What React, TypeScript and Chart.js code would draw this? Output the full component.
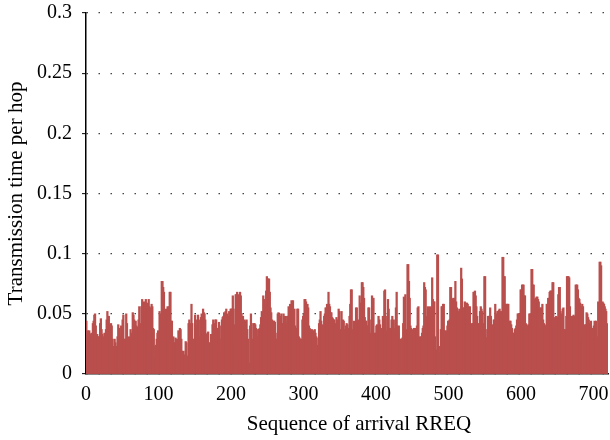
import React, { useEffect, useRef } from "react";
import { Chart, registerables } from "chart.js";

Chart.register(...registerables);

// Transmission time per hop, one value per arriving RREQ (sequence 1..720)
const seg1 = [
  0.044, 0.031, 0.036, 0.029, 0.036, 0.033, 0.029, 0.034, 0.030, 0.042,
  0.044, 0.049, 0.050, 0.040, 0.031, 0.033, 0.031, 0.031, 0.029, 0.042, 0.046,
  0.037, 0.033, 0.031, 0.016, 0.034, 0.031, 0.037, 0.045, 0.052, 0.038,
  0.048, 0.040, 0.041, 0.042, 0.040, 0.029, 0.023, 0.018, 0.029, 0.026, 0.020,
  0.023, 0.031, 0.041, 0.038, 0.031, 0.029, 0.040, 0.034, 0.045, 0.049, 0.029,
  0.018, 0.029, 0.050, 0.042, 0.012, 0.006, 0.031, 0.023, 0.037, 0.034, 0.029,
  0.051, 0.049, 0.045, 0.029, 0.044, 0.040, 0.037, 0.039, 0.045, 0.056, 0.038,
  0.042, 0.056, 0.062, 0.060, 0.037, 0.054, 0.060, 0.062, 0.056, 0.059, 0.054, 0.062, 0.056,
];
const seg2 = [
  0.054, 0.055, 0.058, 0.056, 0.038, 0.037, 0.013, 0.023, 0.024, 0.029, 0.034,
  0.036, 0.029, 0.052, 0.048, 0.050, 0.077, 0.077, 0.072, 0.068, 0.009, 0.015,
  0.054, 0.048, 0.056, 0.052, 0.056, 0.068, 0.068, 0.044, 0.044, 0.009, 0.031,
  0.026, 0.026, 0.030, 0.026, 0.029, 0.016, 0.036, 0.033, 0.038, 0.037, 0.029, 0.019,
  0.018, 0.019, 0.015, 0.016, 0.027, 0.026, 0.002, 0.015, 0.042, 0.045, 0.040,
  0.042, 0.058, 0.042, 0.029, 0.011, 0.029, 0.049, 0.045, 0.040, 0.029, 0.049,
  0.026, 0.031, 0.045, 0.047, 0.050, 0.048, 0.054, 0.051, 0.050, 0.045, 0.033,
  0.033, 0.034, 0.035, 0.026, 0.018, 0.026, 0.033, 0.026, 0.041, 0.045, 0.042, 0.040, 0.045,
];
const seg3 = [
  0.045, 0.038, 0.037, 0.038, 0.043, 0.040, 0.019, 0.029, 0.045, 0.047, 0.048, 0.051,
  0.047, 0.052, 0.054, 0.050, 0.045, 0.048, 0.052, 0.050, 0.054, 0.054, 0.054,
  0.065, 0.054, 0.024, 0.041, 0.066, 0.066, 0.068, 0.066, 0.037, 0.012, 0.068,
  0.065, 0.050, 0.045, 0.048, 0.038, 0.045, 0.041, 0.044, 0.045, 0.037, 0.029,
  0.009, 0.009, 0.040, 0.050, 0.042, 0.029, 0.020, 0.042, 0.042, 0.041, 0.038,
  0.031, 0.029, 0.037, 0.037, 0.038, 0.041, 0.047, 0.052, 0.051, 0.065, 0.062,
  0.052, 0.058, 0.069, 0.081, 0.079, 0.079, 0.079, 0.068, 0.055, 0.051, 0.045,
  0.033, 0.044, 0.044, 0.043, 0.034, 0.029, 0.029, 0.050, 0.051, 0.050, 0.048, 0.045, 0.050,
];
const seg4 = [
  0.042, 0.042, 0.050, 0.045, 0.048, 0.040, 0.042, 0.048, 0.048, 0.056, 0.027,
  0.058, 0.050, 0.061, 0.054, 0.061, 0.052, 0.054, 0.040, 0.038, 0.034, 0.054,
  0.054, 0.031, 0.030, 0.029, 0.015, 0.029, 0.045, 0.048, 0.050, 0.062, 0.062,
  0.060, 0.056, 0.058, 0.055, 0.040, 0.038, 0.037, 0.026, 0.037, 0.036, 0.031,
  0.036, 0.037, 0.034, 0.031, 0.023, 0.024, 0.030, 0.042, 0.045, 0.052, 0.044,
  0.041, 0.036, 0.040, 0.048, 0.050, 0.055, 0.055, 0.058, 0.038, 0.068, 0.058,
  0.056, 0.051, 0.051, 0.047, 0.046, 0.045, 0.045, 0.042, 0.040, 0.047, 0.045,
  0.044, 0.054, 0.052, 0.029, 0.037, 0.052, 0.029, 0.045, 0.044, 0.023, 0.037, 0.040, 0.042, 0.041,
];
const seg5 = [
  0.037, 0.038, 0.048, 0.058, 0.070, 0.070, 0.031, 0.037, 0.044, 0.038, 0.040,
  0.055, 0.055, 0.044, 0.045, 0.038, 0.065, 0.059, 0.058, 0.076, 0.076, 0.072,
  0.063, 0.047, 0.044, 0.044, 0.040, 0.040, 0.055, 0.055, 0.023, 0.034, 0.045,
  0.065, 0.063, 0.063, 0.026, 0.034, 0.034, 0.040, 0.041, 0.038, 0.048, 0.045,
  0.041, 0.037, 0.030, 0.038, 0.048, 0.041, 0.069, 0.070, 0.048, 0.036, 0.034,
  0.062, 0.054, 0.034, 0.038, 0.038, 0.045, 0.048, 0.042, 0.045, 0.034, 0.038,
  0.055, 0.068, 0.040, 0.034, 0.040, 0.029, 0.027, 0.029, 0.029, 0.030, 0.042,
  0.064, 0.062, 0.066, 0.037, 0.031, 0.091, 0.091, 0.077, 0.063, 0.040, 0.038, 0.037, 0.031, 0.031,
];
const seg6 = [
  0.038, 0.030, 0.038, 0.036, 0.040, 0.055, 0.056, 0.020, 0.031, 0.029, 0.031,
  0.034, 0.038, 0.040, 0.076, 0.072, 0.070, 0.048, 0.047, 0.056, 0.055, 0.048,
  0.056, 0.054, 0.055, 0.080, 0.062, 0.060, 0.060, 0.031, 0.018, 0.020, 0.099,
  0.099, 0.018, 0.011, 0.023, 0.037, 0.056, 0.056, 0.058, 0.058, 0.036, 0.029,
  0.036, 0.027, 0.040, 0.044, 0.044, 0.045, 0.072, 0.072, 0.045, 0.062, 0.063,
  0.062, 0.063, 0.077, 0.060, 0.055, 0.054, 0.037, 0.052, 0.054, 0.052, 0.088,
  0.079, 0.054, 0.055, 0.055, 0.060, 0.059, 0.056, 0.059, 0.058, 0.056, 0.054,
  0.056, 0.038, 0.041, 0.042, 0.042, 0.068, 0.068, 0.069, 0.065, 0.056, 0.048, 0.042, 0.041, 0.042,
];
const seg7 = [
  0.052, 0.056, 0.054, 0.052, 0.042, 0.041, 0.081, 0.081, 0.030, 0.030, 0.037,
  0.048, 0.048, 0.048, 0.055, 0.048, 0.038, 0.041, 0.037, 0.045, 0.045, 0.058,
  0.050, 0.047, 0.052, 0.052, 0.053, 0.054, 0.052, 0.048, 0.052, 0.097, 0.097,
  0.081, 0.081, 0.019, 0.058, 0.058, 0.058, 0.058, 0.031, 0.044, 0.044, 0.041,
  0.038, 0.013, 0.034, 0.034, 0.037, 0.038, 0.040, 0.045, 0.050, 0.050, 0.038,
  0.050, 0.070, 0.070, 0.074, 0.074, 0.074, 0.065, 0.065, 0.042, 0.041, 0.023,
  0.040, 0.041, 0.050, 0.050, 0.048, 0.087, 0.087, 0.074, 0.074, 0.055, 0.062,
  0.063, 0.064, 0.064, 0.062, 0.060, 0.038, 0.055, 0.055, 0.047, 0.058, 0.045, 0.042, 0.041, 0.040,
];
const seg8 = [
  0.040, 0.058, 0.058, 0.063, 0.063, 0.068, 0.069, 0.069, 0.069, 0.076, 0.076,
  0.038, 0.047, 0.045, 0.048, 0.044, 0.047, 0.066, 0.072, 0.072, 0.052, 0.048,
  0.050, 0.054, 0.055, 0.037, 0.037, 0.034, 0.048, 0.081, 0.081, 0.081, 0.080,
  0.056, 0.018, 0.042, 0.048, 0.048, 0.049, 0.048, 0.047, 0.074, 0.074, 0.074,
  0.070, 0.063, 0.062, 0.059, 0.056, 0.029, 0.058, 0.056, 0.015, 0.040, 0.041,
  0.041, 0.051, 0.050, 0.047, 0.045, 0.042, 0.041, 0.044, 0.038, 0.038, 0.037,
  0.040, 0.044, 0.042, 0.044, 0.022, 0.031, 0.060, 0.059, 0.093, 0.093, 0.090,
  0.059, 0.060, 0.059, 0.058, 0.056, 0.054, 0.052, 0.029, 0.042,
];
const transmissionTime = [...seg1, ...seg2, ...seg3, ...seg4, ...seg5, ...seg6, ...seg7, ...seg8];

const xTicks = [0, 100, 200, 300, 400, 500, 600, 700];
const yTicks = [0, 0.05, 0.1, 0.15, 0.2, 0.25, 0.3];
const xTitle = "Sequence of arrival RREQ";
const yTitle = "Transmission time per hop";

const FONT = "'Liberation Serif', 'Times New Roman', serif";
const BAR = "rgb(185, 79, 77)";

// draws the x-axis title slightly right of the plot centre, as in the reference
const xTitlePlugin = {
  id: "xTitle",
  afterDraw(chart: any) {
    const { ctx, chartArea } = chart;
    ctx.save();
    ctx.font = `21px ${FONT}`;
    ctx.fillStyle = "#000";
    ctx.textAlign = "center";
    ctx.textBaseline = "middle";
    ctx.fillText(xTitle, (chartArea.left + chartArea.right) / 2 + 12, 424);
    ctx.restore();
  },
};

export default function App() {
  const ref = useRef<HTMLCanvasElement | null>(null);
  useEffect(() => {
    if (!ref.current) return;
    const chart = new Chart(ref.current, {
      type: "bar",
      data: {
        datasets: [
          {
            data: transmissionTime.map((v, i) => ({ x: i + 0.5, y: v })),
            backgroundColor: BAR,
            borderWidth: 0,
            barThickness: 1.6,
          },
        ],
      },
      plugins: [xTitlePlugin],
      options: {
        animation: false,
        responsive: false,
        plugins: { legend: { display: false }, tooltip: { enabled: false } },
        layout: { padding: { top: 13, right: 2, left: 0, bottom: 0 } },
        scales: {
          x: {
            type: "linear",
            offset: false,
            min: 0,
            max: 720,
            afterBuildTicks: (s: any) => {
              s.ticks = xTicks.map((v) => ({ value: v }));
            },
            afterFit: (s: any) => {
              s.height = 66;
              s.paddingLeft = 0;
              s.paddingRight = 0;
            },
            grid: { display: false, drawTicks: false, offset: false },
            border: { display: true, color: "#1a1010", width: 1.5 },
            ticks: {
              padding: 9,
              color: "#000",
              font: { family: FONT, size: 20 },
              maxRotation: 0,
              autoSkip: false,
            },
            title: { display: false },
          },
          y: {
            type: "linear",
            min: 0,
            max: 0.3,
            afterBuildTicks: (s: any) => {
              s.ticks = yTicks.map((v) => ({ value: v }));
            },
            afterFit: (s: any) => {
              s.width = 86;
              s.paddingTop = 0;
              s.paddingBottom = 0;
            },
            grid: {
              color: "#444",
              lineWidth: 1.3,
              drawTicks: true,
              tickLength: 4,
              tickColor: "#000",
              tickWidth: 1,
              tickBorderDash: [],
            },
            border: { display: true, color: "#000", width: 1.5, dash: [1.5, 10.5] },
            ticks: {
              padding: 10,
              color: "#000",
              font: { family: FONT, size: 20 },
              callback: (v: any) => String(parseFloat(Number(v).toFixed(2))),
            },
            title: {
              display: true,
              text: yTitle,
              color: "#000",
              font: { family: FONT, size: 21 },
              padding: { top: 4, bottom: 0 },
            },
          },
        },
      },
    });
    return () => chart.destroy();
  }, []);
  return (
    <div style={{ position: "fixed", left: 0, top: 0, width: 610, height: 440, background: "#fff" }}>
      <canvas ref={ref} width={610} height={440} />
    </div>
  );
}
